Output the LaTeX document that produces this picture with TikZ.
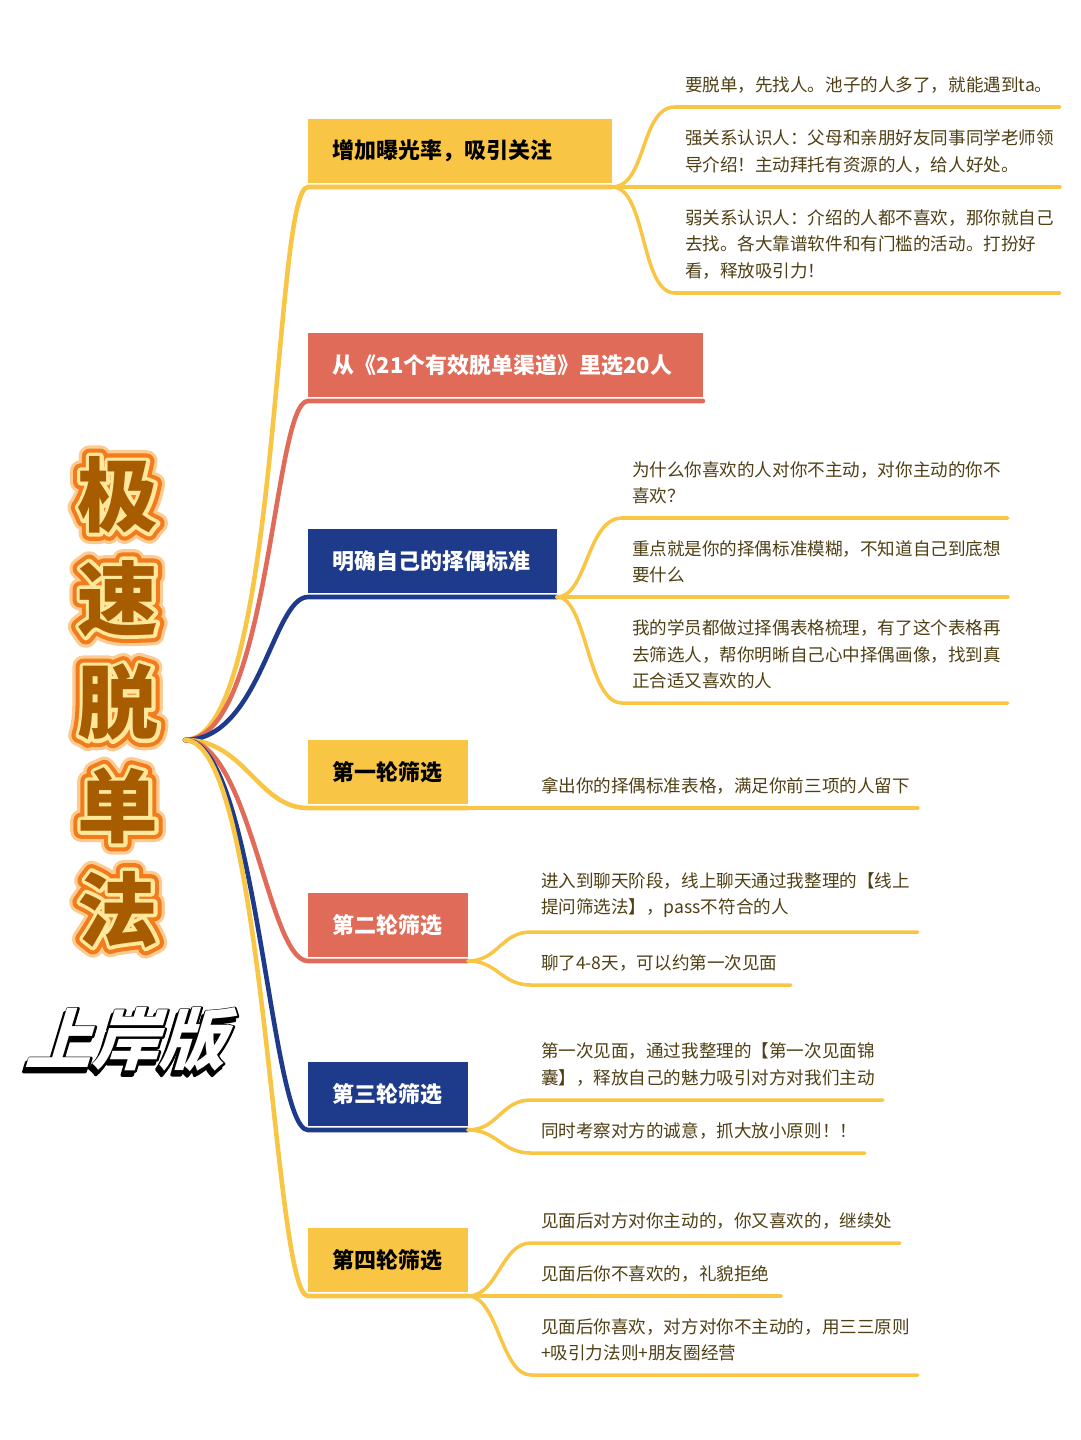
\documentclass[tikz,border=0pt]{standalone}
\usepackage{fontspec}
\setmainfont{Noto Sans CJK SC}
\newfontfamily\fuenteHalo[FakeBold=27]{Noto Sans CJK SC}
\newfontfamily\fuenteAnillo[FakeBold=19]{Noto Sans CJK SC}
\newfontfamily\fuenteBorde[FakeBold=9]{Noto Sans CJK SC}
\newfontfamily\fuenteOrilla[FakeSlant=0.3]{Noto Sans CJK SC}
\newfontfamily\fuenteOrillaBorde[FakeSlant=0.3,FakeBold=4.5]{Noto Sans CJK SC}
\usetikzlibrary{positioning, calc}
\definecolor{colorAmarillo}{HTML}{F9C544}
\definecolor{colorCoral}{HTML}{E06B58}
\definecolor{colorMarino}{HTML}{1E3A8A}
\definecolor{textoHoja}{HTML}{4E3F14}
\definecolor{tituloMarron}{HTML}{A85C00}
\definecolor{tituloCrema}{HTML}{FFE79C}
\definecolor{tituloNaranja}{HTML}{F27B1C}
\definecolor{tituloHalo}{HTML}{FCCB92}
\newcommand{\tamTitulo}{\bfseries\fontsize{46}{59}\selectfont}
\newcommand{\tamOrilla}{\bfseries\fontsize{38}{40}\selectfont}

\begin{document}
\begin{tikzpicture}[
        x=0.02cm, y=-0.02cm,
        caja/.style={anchor=south west, minimum height=1.28cm, inner xsep=0.5cm, outer xsep=0pt, outer ysep=2.2pt,
            align=left, font=\bfseries\fontsize{12.5}{15}\selectfont},
        hoja/.style={anchor=south west, inner xsep=0.2cm, inner ysep=8pt, outer sep=0pt,
            align=left, text=textoHoja, font=\fontsize{10}{15}\selectfont},
        rama/.style={line width=2.6pt, line cap=round},
        linea/.style={colorAmarillo, line width=2pt, line cap=round},
        titulo/.style={align=center, inner sep=0pt, line join=round}
    ]
        \useasboundingbox (0,0) rectangle (1080,1440);

        \node[titulo, text=tituloHalo, font=\fuenteHalo\tamTitulo] (tHalo) at (118,702) {极\\速\\脱\\单\\法};
        \node[titulo, text=tituloNaranja, font=\fuenteAnillo\tamTitulo] (tAnillo) at (118,702) {极\\速\\脱\\单\\法};
        \node[titulo, text=tituloCrema, font=\fuenteBorde\tamTitulo] (tBorde) at (118,702) {极\\速\\脱\\单\\法};
        \node[titulo, text=tituloMarron, font=\tamTitulo] (tTitulo) at (118,702) {极\\速\\脱\\单\\法};

        \node[titulo, text=black, font=\fuenteOrillaBorde\tamOrilla] (sSombra) at (122,1044) {上岸版};
        \node[titulo, text=black, font=\fuenteOrillaBorde\tamOrilla] (sBorde) at (125,1040) {上岸版};
        \node[titulo, text=white, font=\fuenteOrilla\tamOrilla] (sTexto) at (125,1040) {上岸版};

        \coordinate (raiz) at (185,740);

        \node[caja, fill=colorAmarillo, text width=5.08cm] (b1) at (308,187) {增加曝光率，吸引关注};
        \node[caja, fill=colorCoral, text=white, text width=6.9cm] (b2) at (308,401) {从《21个有效脱单渠道》里选20人};
        \node[caja, fill=colorMarino, text=white, text width=3.98cm] (b3) at (308,597) {明确自己的择偶标准};
        \node[caja, fill=colorAmarillo, text width=2.2cm] (b4) at (308,808) {第一轮筛选};
        \node[caja, fill=colorCoral, text=white, text width=2.2cm] (b5) at (308,961) {第二轮筛选};
        \node[caja, fill=colorMarino, text=white, text width=2.2cm] (b6) at (308,1130) {第三轮筛选};
        \node[caja, fill=colorAmarillo, text width=2.2cm] (b7) at (308,1296) {第四轮筛选};

        \node[hoja, text width=7.3cm] (h11) at (675,107) {要脱单，先找人。池子的人多了，就能遇到ta。};
        \node[hoja, text width=7.3cm] (h12) at (675,187) {强关系认识人：父母和亲朋好友同事同学老师领\\导介绍！主动拜托有资源的人，给人好处。};
        \node[hoja, text width=7.3cm] (h13) at (675,293) {弱关系认识人：介绍的人都不喜欢，那你就自己\\去找。各大靠谱软件和有门槛的活动。打扮好\\看，释放吸引力！};
        \node[hoja, text width=7.32cm] (h31) at (622,518) {为什么你喜欢的人对你不主动，对你主动的你不\\喜欢？};
        \node[hoja, text width=7.32cm] (h32) at (622,597) {重点就是你的择偶标准模糊，不知道自己到底想\\要什么};
        \node[hoja, text width=7.32cm] (h33) at (622,703) {我的学员都做过择偶表格梳理，有了这个表格再\\去筛选人，帮你明晰自己心中择偶画像，找到真\\正合适又喜欢的人};
        \node[hoja, text width=7.34cm] (h41) at (531,808) {拿出你的择偶标准表格，满足你前三项的人留下};
        \node[hoja, text width=7.34cm] (h51) at (531,932) {进入到聊天阶段，线上聊天通过我整理的【线上\\提问筛选法】，pass不符合的人};
        \node[hoja, text width=4.8cm] (h52) at (531,985) {聊了4-8天，可以约第一次见面};
        \node[hoja, text width=6.64cm] (h61) at (531,1100) {第一次见面，通过我整理的【第一次见面锦\\囊】，释放自己的魅力吸引对方对我们主动};
        \node[hoja, text width=6.28cm] (h62) at (531,1153) {同时考察对方的诚意，抓大放小原则！！};
        \node[hoja, text width=6.98cm] (h71) at (531,1243) {见面后对方对你主动的，你又喜欢的，继续处};
        \node[hoja, text width=4.6cm] (h72) at (531,1296) {见面后你不喜欢的，礼貌拒绝};
        \node[hoja, text width=7.34cm] (h73) at (531,1375) {见面后你喜欢，对方对你不主动的，用三三原则\\+吸引力法则+朋友圈经营};

        \draw[rama, colorAmarillo] (raiz) .. controls +(95,0) and +(-35,0) .. (b1.south west) -- (b1.south east);
        \draw[rama, colorCoral] (raiz) .. controls +(85,0) and +(-35,0) .. (b2.south west) -- (b2.south east);
        \draw[rama, colorMarino] (raiz) .. controls +(75,0) and +(-35,0) .. (b3.south west) -- (b3.south east);
        \draw[rama, colorAmarillo] (raiz) .. controls +(60,0) and +(-50,0) .. (b4.south west) -- (b4.south east);
        \draw[rama, colorCoral] (raiz) .. controls +(65,0) and +(-40,0) .. (b5.south west) -- (b5.south east);
        \draw[rama, colorMarino] (raiz) .. controls +(72,0) and +(-38,0) .. (b6.south west) -- (b6.south east);
        \draw[rama, colorAmarillo] (raiz) .. controls +(80,0) and +(-35,0) .. (b7.south west) -- (b7.south east);

        \draw[linea] (b1.south east) .. controls +(35,0) and +(-35,0) .. (h11.south west) -- (h11.south east);
        \draw[linea] (b1.south east) -- (h12.south west) -- (h12.south east);
        \draw[linea] (b1.south east) .. controls +(35,0) and +(-35,0) .. (h13.south west) -- (h13.south east);
        \draw[linea] (b3.south east) .. controls +(30,0) and +(-35,0) .. (h31.south west) -- (h31.south east);
        \draw[linea] (b3.south east) -- (h32.south west) -- (h32.south east);
        \draw[linea] (b3.south east) .. controls +(30,0) and +(-35,0) .. (h33.south west) -- (h33.south east);
        \draw[linea] (b4.south east) -- (h41.south west) -- (h41.south east);
        \draw[linea] (b5.south east) .. controls +(30,0) and +(-30,0) .. (h51.south west) -- (h51.south east);
        \draw[linea] (b5.south east) .. controls +(30,0) and +(-30,0) .. (h52.south west) -- (h52.south east);
        \draw[linea] (b6.south east) .. controls +(30,0) and +(-30,0) .. (h61.south west) -- (h61.south east);
        \draw[linea] (b6.south east) .. controls +(30,0) and +(-30,0) .. (h62.south west) -- (h62.south east);
        \draw[linea] (b7.south east) .. controls +(30,0) and +(-30,0) .. (h71.south west) -- (h71.south east);
        \draw[linea] (b7.south east) -- (h72.south west) -- (h72.south east);
        \draw[linea] (b7.south east) .. controls +(30,0) and +(-30,0) .. (h73.south west) -- (h73.south east);
    \end{tikzpicture}
\end{document}
